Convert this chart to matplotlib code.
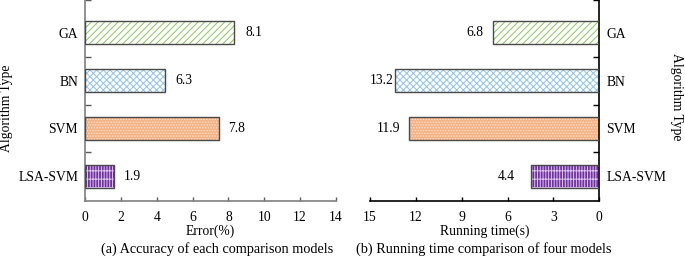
import matplotlib
matplotlib.use("Agg")
import matplotlib.pyplot as plt
import numpy as np

# ---------------- data ----------------
categories = ["LSA-SVM", "SVM", "BN", "GA"]          # bottom -> top
error_bars = [1.6, 7.45, 4.45, 8.33]                  # bar lengths as drawn
error_labels = ["1.9", "7.8", "6.3", "8.1"]
time_bars = [4.49, 12.43, 13.34, 6.95]
time_labels = ["4.4", "11.9", "13.2", "6.8"]
error_ticks = [0, 2, 4, 6, 8, 10, 12, 14]
time_ticks = [15, 12, 9, 6, 3, 0]

# ---------------- style ----------------
plt.rcParams["font.family"] = ["Liberation Serif", "DejaVu Serif"]
plt.rcParams["hatch.linewidth"] = 0.7

face = ["#7030a0", "#f4b183", "white", "white"]
hatch_col = ["#dcc6ee", "#fde3d0", "#8fc3ea", "#8cc65a"]
hatches = ["||||++", "......", "xxxxx", "/////"]
edge = "#4a4a4a"
left_offsets = [10, 10, 10, 11]     # px gap label <- bar end
right_offsets = [16, 9, 1.5, 9.5]

fig = plt.figure(figsize=(6.85, 2.57), dpi=100)
axL = fig.add_axes([85.3 / 685, 56 / 257, 250.4 / 685, 201 / 257])
axR = fig.add_axes([370 / 685, 56 / 257, 229.3 / 685, 201 / 257])

y = np.arange(len(categories))
h = 0.48
FS = 9.8

def draw(ax, vals):
    for i, v in enumerate(vals):
        ax.barh(y[i], v, height=h, color=face[i], edgecolor=hatch_col[i],
                hatch=hatches[i], linewidth=0, zorder=2)
        ax.barh(y[i], v, height=h, fill=False, edgecolor=edge,
                linewidth=1.0, zorder=3)

draw(axL, error_bars)
draw(axR, time_bars)

for ax in (axL, axR):
    ax.set_ylim(-0.52, 3.69)
    ax.set_yticks(y)
    ax.set_yticklabels(categories, fontsize=FS)
    ax.set_yticks([0.5, 1.5, 2.5, 3.69], minor=True)
    ax.tick_params(axis="y", which="major", length=0, pad=5.2)
    ax.tick_params(axis="y", which="minor", length=4, direction="in", width=1)
    ax.tick_params(axis="x", direction="in", length=3, width=1, labelsize=9.8, pad=7.5)
    ax.spines["top"].set_visible(False)

# left panel
axL.set_xlim(0, 14)
axL.set_xticks(error_ticks)
axL.spines["right"].set_visible(False)
for s in ("left", "bottom"):
    axL.spines[s].set_color("#7f7f7f")
    axL.spines[s].set_linewidth(1.2)
axL.tick_params(axis="both", which="both", color="#5a5a5a")
for i, (v, lab) in enumerate(zip(error_bars, error_labels)):
    axL.annotate(lab, (v, y[i]), xytext=(left_offsets[i] * 0.72, 0),
                 textcoords="offset points", ha="left", va="center", fontsize=FS)

# right panel
axR.set_xlim(15, 0)
axR.set_xticks(time_ticks)
axR.spines["left"].set_visible(False)
for s in ("right", "bottom"):
    axR.spines[s].set_color("black")
    axR.spines[s].set_linewidth(1.2)
axR.yaxis.tick_right()
axR.tick_params(axis="y", which="both", left=False, right=True)
for i, (v, lab) in enumerate(zip(time_bars, time_labels)):
    axR.annotate(lab, (v, y[i]), xytext=(-right_offsets[i] * 0.72, 0),
                 textcoords="offset points", ha="right", va="center", fontsize=FS)

# labels
fig.text(0.009, 0.58, "Algorithm Type", rotation=90, ha="center", va="center", fontsize=FS)
fig.text(0.988, 0.623, "Algorithm Type", rotation=-90, ha="center", va="center", fontsize=FS)
fig.text((85.3 + 335.7) / 2 / 685, 0.086, "Error(%)", ha="center", va="baseline", fontsize=FS)
fig.text(484.7 / 685, 0.086, "Running time(s)", ha="center", va="baseline", fontsize=FS)
fig.text(217 / 685, 0.016, "(a) Accuracy of each comparison models", ha="center", va="baseline", fontsize=10.3)
fig.text(484 / 685, 0.016, "(b) Running time comparison of four models", ha="center", va="baseline", fontsize=10.3)

fig.savefig("out.png", dpi=100)
